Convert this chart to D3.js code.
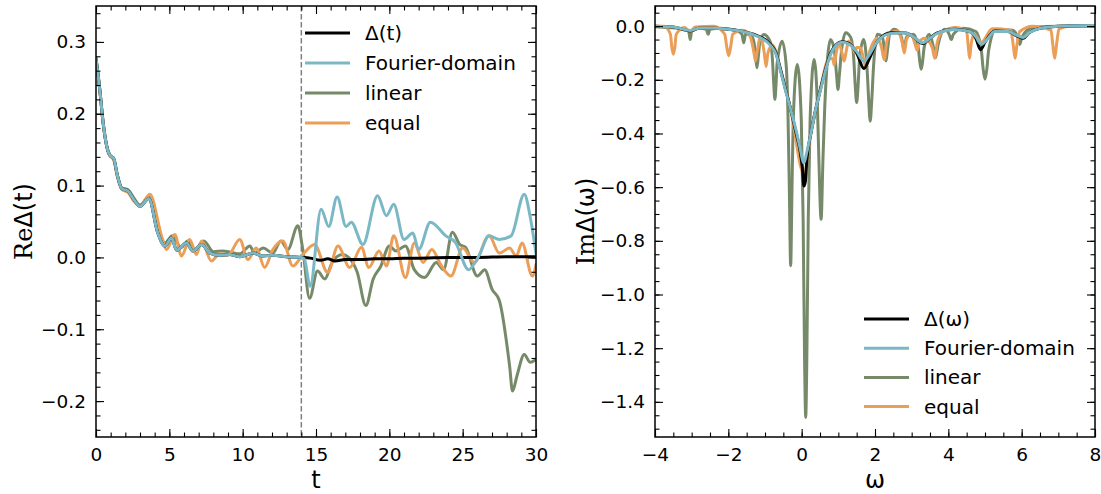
<!DOCTYPE html>
<html>
<head>
<meta charset="utf-8">
<script src="https://cdn.jsdelivr.net/npm/d3@7"></script>
<style>
body { margin: 0; background: #fff; }
svg text { font-family: "DejaVu Sans", sans-serif; fill: #000; }
</style>
</head>
<body>
<svg id="chart" width="1101" height="494"></svg>
<script>

// ---- left panel data: Re Delta(t), pairs of [t, value] ----
var timeExact = [
	[0, 0.277], [0.25, 0.235], [0.5, 0.185], [0.73, 0.155], [0.95, 0.142], [1.2, 0.138],
	[1.45, 0.115], [1.75, 0.096], [2.2, 0.092], [2.6, 0.08], [3.0, 0.071], [3.6, 0.082],
	[4.2, 0.035], [4.7, 0.016], [5.15, 0.027], [5.5, 0.01], [6.17, 0.02], [6.6, 0.009],
	[7.2, 0.018], [7.76, 0.006], [8.4, 0.003], [9.1, 0.004], [9.8, 0.001], [10.7, 0.006],
	[11.4, 0.002], [12.06, 0.003], [12.97, 0.001], [14.0, 0.0], [14.6, -0.001], [15.3, -0.004],
	[15.8, -0.002], [16.3, -0.005], [17, -0.003], [18, -0.003], [19, -0.002], [20, -0.002],
	[21, -0.001], [22, -0.001], [24, 0.0], [26, 0.0], [28, 0.001], [30, 0.001]
];
var timeFourier = [
	[0, 0.277], [0.25, 0.235], [0.5, 0.185], [0.73, 0.155], [0.95, 0.142], [1.2, 0.138],
	[1.45, 0.115], [1.75, 0.096], [2.2, 0.092], [2.6, 0.08], [3.0, 0.071], [3.6, 0.082],
	[4.2, 0.035], [4.7, 0.016], [5.15, 0.027], [5.5, 0.01], [6.17, 0.02], [6.6, 0.009],
	[7.2, 0.018], [7.76, 0.006], [8.4, 0.003], [9.1, 0.004], [9.8, 0.001], [10.7, 0.006],
	[11.4, 0.002], [12.06, 0.003], [12.97, 0.001], [14.0, 0.0], [14.2, -0.002], [14.6, -0.04],
	[15.35, 0.067], [15.87, 0.043], [16.44, 0.084], [17.05, 0.043], [17.4, 0.049], [18.2, 0.018],
	[19.2, 0.086], [19.8, 0.058], [20.3, 0.074], [21.0, 0.025], [21.6, 0.034], [22.0, 0.011],
	[22.8, 0.049], [23.85, 0.03], [24.5, 0.021], [25.4, -0.017], [26.1, 0.002], [26.8, 0.03],
	[27.5, 0.025], [28.3, 0.03], [29.2, 0.088], [29.6, 0.057], [30, 0.005]
];
var timeLinear = [
	[0, 0.277], [0.25, 0.235], [0.5, 0.185], [0.73, 0.155], [0.95, 0.142], [1.2, 0.138],
	[1.45, 0.115], [1.75, 0.097], [2.2, 0.094], [2.6, 0.082], [3.0, 0.073], [3.6, 0.084],
	[4.2, 0.037], [4.7, 0.02], [5.2, 0.03], [5.8, 0.014], [6.25, 0.023], [6.7, 0.01],
	[7.35, 0.023], [8.0, 0.008], [8.65, 0.009], [9.2, 0.007], [9.8, 0.005], [10.5, 0.016],
	[10.8, 0.006], [11.4, 0.013], [12.06, 0.006], [12.6, 0.023], [13.08, 0.011], [13.76, 0.044],
	[14.1, 0.011], [14.56, -0.057], [15.1, -0.019], [15.6, -0.03], [16.1, -0.007], [16.8, 0.004],
	[17.5, -0.007], [17.8, -0.02], [18.4, -0.067], [18.9, -0.03], [19.4, -0.013], [20.0, 0.016],
	[20.45, 0.009], [21.1, 0.016], [21.7, -0.017], [22.4, -0.028], [23.2, -0.007], [23.7, -0.017],
	[24.3, 0.035], [24.8, 0.018], [25.2, 0.014], [26.0, -0.026], [26.5, -0.017], [27.0, -0.044],
	[27.5, -0.06], [28.2, -0.151], [28.4, -0.186], [28.7, -0.165], [29.2, -0.135], [29.6, -0.146],
	[30, -0.142]
];
var timeEqual = [
	[0, 0.277], [0.25, 0.235], [0.5, 0.185], [0.73, 0.155], [0.95, 0.142], [1.2, 0.136],
	[1.45, 0.113], [1.75, 0.095], [2.2, 0.09], [2.6, 0.078], [3.0, 0.072], [3.67, 0.088],
	[4.47, 0.03], [4.81, 0.011], [5.37, 0.032], [5.83, 0.002], [6.39, 0.025], [6.85, 0.004],
	[7.2, 0.023], [7.87, -0.005], [8.43, 0.005], [9.0, 0.003], [9.8, 0.025], [10.36, -0.003],
	[10.93, 0.013], [11.5, -0.014], [12.06, 0.011], [12.74, 0.023], [13.42, -0.012], [14.1, 0.004],
	[14.9, 0.018], [15.8, -0.021], [16.5, 0.016], [17.3, -0.014], [18.1, 0.014], [18.6, -0.014],
	[19.3, 0.009], [19.8, -0.012], [20.3, 0.03], [21.1, -0.028], [21.7, 0.02], [22.3, -0.007],
	[22.9, 0.011], [23.5, -0.01], [24.2, -0.026], [25.0, 0.013], [25.8, -0.007], [26.8, 0.03],
	[27.5, 0.006], [28.2, 0.013], [28.65, 0.002], [29.05, 0.02], [29.75, -0.026], [30, -0.01]
];
var cutoffTime = 14;

// ---- right panel data: Im Delta(omega), pairs of [omega, value] ----
var freqExact = [
	[-4, 0], [-3.5, -0.003], [-3.04, -0.018], [-2.8, -0.008], [-2.4, -0.008], [-2.0, -0.012],
	[-1.68, -0.018], [-1.22, -0.035], [-0.85, -0.068], [-0.7, -0.1], [-0.58, -0.16], [-0.45, -0.23],
	[-0.3, -0.31], [-0.15, -0.4], [-0.05, -0.46], [0.02, -0.53], [0.06, -0.596], [0.1, -0.58],
	[0.14, -0.5], [0.25, -0.4], [0.4, -0.3], [0.52, -0.23], [0.65, -0.16], [0.79, -0.1],
	[0.95, -0.068], [1.1, -0.058], [1.3, -0.065], [1.5, -0.1], [1.7, -0.158], [1.85, -0.12],
	[2.07, -0.056], [2.44, -0.025], [2.8, -0.025], [3.05, -0.04], [3.3, -0.065], [3.5, -0.045],
	[3.7, -0.025], [4.16, -0.012], [4.58, -0.02], [4.75, -0.045], [4.88, -0.088], [5.0, -0.06],
	[5.27, -0.018], [5.63, -0.02], [5.85, -0.035], [6.04, -0.045], [6.2, -0.025], [6.5, -0.008],
	[7.0, 0.0], [8.0, 0.002]
];
var freqFourier = [
	[-4, 0], [-3.5, -0.003], [-3.04, -0.016], [-2.8, -0.008], [-2.4, -0.008], [-2.0, -0.012],
	[-1.68, -0.018], [-1.22, -0.037], [-0.85, -0.072], [-0.7, -0.105], [-0.58, -0.165], [-0.45, -0.235],
	[-0.3, -0.31], [-0.15, -0.39], [-0.05, -0.45], [0.06, -0.51], [0.14, -0.47], [0.25, -0.4],
	[0.4, -0.3], [0.52, -0.235], [0.65, -0.165], [0.79, -0.105], [0.95, -0.07], [1.1, -0.06],
	[1.3, -0.068], [1.5, -0.095], [1.7, -0.13], [1.85, -0.105], [2.07, -0.056], [2.44, -0.027],
	[2.8, -0.025], [3.05, -0.04], [3.3, -0.062], [3.5, -0.045], [3.7, -0.027], [4.16, -0.013],
	[4.58, -0.02], [4.75, -0.04], [4.9, -0.068], [5.05, -0.05], [5.27, -0.02], [5.63, -0.02],
	[5.85, -0.033], [6.04, -0.042], [6.2, -0.025], [6.5, -0.008], [7.0, 0.0], [8.0, 0.002]
];
var freqLinear = [
	[-4.0, -0.002], [-3.2, -0.01], [-3.08, -0.02], [-3.04, -0.05], [-3.0, -0.02], [-2.8, -0.008],
	[-2.6, -0.012], [-2.55, -0.03], [-2.5, -0.012], [-2.2, -0.008], [-1.75, -0.018], [-1.63, -0.03],
	[-1.58, -0.062], [-1.53, -0.03], [-1.4, -0.03], [-1.3, -0.06], [-1.26, -0.11], [-1.22, -0.155],
	[-1.18, -0.11], [-1.14, -0.06], [-1.03, -0.031], [-0.85, -0.06], [-0.79, -0.14], [-0.76, -0.22],
	[-0.73, -0.273], [-0.7, -0.22], [-0.67, -0.14], [-0.53, -0.056], [-0.42, -0.15], [-0.37, -0.35],
	[-0.335, -0.62], [-0.3, -0.893], [-0.265, -0.62], [-0.23, -0.35], [-0.12, -0.143], [-0.01, -0.35],
	[0.04, -0.72], [0.08, -1.25], [0.11, -1.458], [0.14, -1.25], [0.18, -0.72], [0.23, -0.35],
	[0.34, -0.124], [0.43, -0.3], [0.47, -0.5], [0.53, -0.72], [0.58, -0.5], [0.63, -0.3],
	[0.79, -0.05], [0.9, -0.1], [0.95, -0.18], [0.99, -0.236], [1.03, -0.18], [1.08, -0.1],
	[1.2, -0.025], [1.34, -0.043], [1.42, -0.12], [1.46, -0.22], [1.5, -0.285], [1.54, -0.22],
	[1.58, -0.12], [1.69, -0.05], [1.78, -0.15], [1.83, -0.28], [1.87, -0.354], [1.91, -0.28],
	[1.96, -0.15], [2.07, -0.03], [2.2, -0.04], [2.26, -0.09], [2.3, -0.13], [2.34, -0.09],
	[2.4, -0.03], [2.53, -0.012], [2.72, -0.04], [2.79, -0.087], [2.86, -0.04], [3.05, -0.03],
	[3.18, -0.08], [3.22, -0.13], [3.26, -0.161], [3.3, -0.13], [3.34, -0.08], [3.48, -0.03],
	[3.58, -0.07], [3.65, -0.118], [3.72, -0.07], [3.9, -0.012], [4.02, -0.03], [4.08, -0.05],
	[4.14, -0.03], [4.4, -0.008], [4.75, -0.02], [4.9, -0.09], [4.95, -0.16], [5.0, -0.198],
	[5.05, -0.16], [5.1, -0.09], [5.3, -0.012], [5.75, -0.015], [5.89, -0.04], [5.95, -0.068],
	[6.01, -0.04], [6.3, -0.005], [7.0, 0.0], [8.0, 0.0]
];
var freqEqual = [
	[-4, 0.0], [-3.75, 0.0], [-3.58, -0.03], [-3.54, -0.08], [-3.5, -0.105], [-3.46, -0.08],
	[-3.42, -0.03], [-3.2, -0.005], [-3.04, -0.02], [-2.9, -0.003], [-2.4, 0.0], [-2.1, -0.03],
	[-2.04, -0.08], [-1.99, -0.11], [-1.94, -0.08], [-1.88, -0.03], [-1.6, -0.015], [-1.4, -0.04],
	[-1.3, -0.1], [-1.26, -0.13], [-1.22, -0.1], [-1.12, -0.04], [-1.02, -0.1], [-0.97, -0.15],
	[-0.92, -0.1], [-0.8, -0.07], [-0.58, -0.16], [-0.3, -0.31], [0.06, -0.55], [0.25, -0.4],
	[0.52, -0.23], [0.7, -0.13], [0.84, -0.12], [0.89, -0.145], [0.94, -0.1], [1.02, -0.065],
	[1.1, -0.1], [1.16, -0.13], [1.22, -0.09], [1.28, -0.055], [1.4, -0.08], [1.45, -0.1],
	[1.5, -0.08], [1.6, -0.08], [1.7, -0.13], [1.75, -0.15], [1.8, -0.12], [1.92, -0.07],
	[2.05, -0.045], [2.18, -0.08], [2.25, -0.125], [2.32, -0.06], [2.42, -0.025], [2.6, -0.018],
	[2.74, -0.06], [2.8, -0.1], [2.86, -0.05], [2.98, -0.03], [3.1, -0.07], [3.15, -0.09],
	[3.2, -0.06], [3.35, -0.045], [3.56, -0.08], [3.63, -0.12], [3.7, -0.06], [3.85, -0.02],
	[4.2, -0.005], [4.5, -0.02], [4.54, -0.07], [4.58, -0.12], [4.62, -0.07], [4.7, -0.03],
	[4.9, -0.06], [5.2, -0.01], [5.7, -0.015], [5.77, -0.07], [5.82, -0.12], [5.87, -0.07],
	[5.95, -0.02], [6.3, 0.0], [6.8, -0.015], [6.85, -0.07], [6.9, -0.12], [6.95, -0.07],
	[7.02, -0.01], [7.3, 0.0], [8, 0.0]
];

var colorExact = "#000000";
var colorFourier = "#7ab8c5";
var colorLinear = "#768a69";
var colorEqual = "#eb9e57";

var svg = d3.select("#chart");

function drawPanel(cfg) {

	var x = d3.scaleLinear().domain(cfg.xDomain).range([cfg.box.x0, cfg.box.x1]);
	var y = d3.scaleLinear().domain(cfg.yDomain).range([cfg.box.y1, cfg.box.y0]);

	var g = svg.append("g");

	g.append("clipPath").attr("id", cfg.id + "-clip")
		.append("rect")
		.attr("x", cfg.box.x0).attr("y", cfg.box.y0)
		.attr("width", cfg.box.x1 - cfg.box.x0).attr("height", cfg.box.y1 - cfg.box.y0);

	var plot = g.append("g").attr("clip-path", "url(#" + cfg.id + "-clip)");

	if (cfg.vline !== undefined) {
		plot.append("line")
			.attr("x1", x(cfg.vline)).attr("x2", x(cfg.vline))
			.attr("y1", cfg.box.y0).attr("y2", cfg.box.y1)
			.attr("stroke", "#808080").attr("stroke-width", 1.5)
			.attr("stroke-dasharray", "5.5,2.5");
	}

	var line = d3.line()
		.x(function (d) { return x(d[0]); })
		.y(function (d) { return y(d[1]); })
		.curve(d3.curveMonotoneX);

	// draw back to front: linear, equal, exact, Fourier
	cfg.drawOrder.forEach(function (s) {
		plot.append("path")
			.datum(s.data)
			.attr("d", line)
			.attr("fill", "none")
			.attr("stroke", s.color)
			.attr("stroke-width", 3)
			.attr("stroke-linejoin", "round")
			.attr("stroke-linecap", "round");
	});

	// ticks on all four sides, pointing in
	var axBottom = d3.axisBottom(x).tickValues(cfg.xMajor).tickSize(-8).tickPadding(11)
		.tickFormat(cfg.xFormat);
	var axBottomMinor = d3.axisBottom(x).tickValues(cfg.xMinor).tickSize(-4.5).tickFormat("");
	var axTop = d3.axisTop(x).tickValues(cfg.xMajor).tickSize(-8).tickFormat("");
	var axTopMinor = d3.axisTop(x).tickValues(cfg.xMinor).tickSize(-4.5).tickFormat("");
	var axLeft = d3.axisLeft(y).tickValues(cfg.yMajor).tickSize(-8).tickPadding(10)
		.tickFormat(cfg.yFormat);
	var axLeftMinor = d3.axisLeft(y).tickValues(cfg.yMinor).tickSize(-4.5).tickFormat("");
	var axRight = d3.axisRight(y).tickValues(cfg.yMajor).tickSize(-8).tickFormat("");
	var axRightMinor = d3.axisRight(y).tickValues(cfg.yMinor).tickSize(-4.5).tickFormat("");

	var axes = [
		[axBottomMinor, "translate(0," + cfg.box.y1 + ")"],
		[axBottom, "translate(0," + cfg.box.y1 + ")"],
		[axTopMinor, "translate(0," + cfg.box.y0 + ")"],
		[axTop, "translate(0," + cfg.box.y0 + ")"],
		[axLeftMinor, "translate(" + cfg.box.x0 + ",0)"],
		[axLeft, "translate(" + cfg.box.x0 + ",0)"],
		[axRightMinor, "translate(" + cfg.box.x1 + ",0)"],
		[axRight, "translate(" + cfg.box.x1 + ",0)"]
	];
	axes.forEach(function (a) {
		var ag = g.append("g").attr("transform", a[1]).call(a[0]);
		ag.select(".domain").remove();
		ag.selectAll(".tick line").attr("stroke", "#000").attr("stroke-width", 1.1);
		ag.selectAll("text")
			.style("font-family", "'DejaVu Sans', sans-serif")
			.style("font-size", "18.5px")
			.attr("fill", "#000");
	});

	// frame
	g.append("rect")
		.attr("x", cfg.box.x0).attr("y", cfg.box.y0)
		.attr("width", cfg.box.x1 - cfg.box.x0).attr("height", cfg.box.y1 - cfg.box.y0)
		.attr("fill", "none").attr("stroke", "#000").attr("stroke-width", 1.5);

	// x label
	g.append("text")
		.attr("x", (cfg.box.x0 + cfg.box.x1) / 2).attr("y", 488)
		.attr("text-anchor", "middle")
		.style("font-size", "24px")
		.text(cfg.xLabel);

	// y label: roman prefix + symbol
	var yl = g.append("text")
		.attr("transform", "translate(" + cfg.yLabelX + "," + ((cfg.box.y0 + cfg.box.y1) / 2) + ") rotate(-90)")
		.attr("text-anchor", "middle")
		.style("font-size", "24px");
	yl.append("tspan").style("font-family", "'DejaVu Serif', serif").text(cfg.yLabelPrefix);
	yl.append("tspan").text(cfg.yLabelRest);

	// legend, no frame
	cfg.legend.forEach(function (s, i) {
		var ly = cfg.legendY + i * cfg.legendStep;
		g.append("line")
			.attr("x1", cfg.legendX).attr("x2", cfg.legendX + 45)
			.attr("y1", ly).attr("y2", ly)
			.attr("stroke", s.color).attr("stroke-width", 3);
		g.append("text")
			.attr("x", cfg.legendX + 60).attr("y", ly)
			.attr("dy", "0.35em")
			.style("font-size", "20px")
			.text(s.label);
	});
}

function signedLabel(v, digits) {
	if (Math.abs(v) < 1e-9) {
		return (0).toFixed(digits);
	}
	return (v < 0 ? "\u2212" : "") + Math.abs(v).toFixed(digits);
}

var leftSeries = {
	exact: { data: timeExact, color: colorExact, label: "\u0394(t)" },
	fourier: { data: timeFourier, color: colorFourier, label: "Fourier-domain" },
	linear: { data: timeLinear, color: colorLinear, label: "linear" },
	equal: { data: timeEqual, color: colorEqual, label: "equal" }
};

drawPanel({
	id: "left",
	box: { x0: 96, x1: 536, y0: 6, y1: 437 },
	xDomain: [0, 30],
	yDomain: [-0.25, 0.35],
	xMajor: d3.range(0, 31, 5),
	xMinor: d3.range(0, 31, 1),
	yMajor: [-0.2, -0.1, 0, 0.1, 0.2, 0.3],
	yMinor: d3.range(-24, 35, 2).map(function (v) { return v / 100; }),
	xFormat: function (v) { return signedLabel(v, 0); },
	yFormat: function (v) { return signedLabel(v, 1); },
	vline: cutoffTime,
	drawOrder: [leftSeries.linear, leftSeries.equal, leftSeries.exact, leftSeries.fourier],
	legend: [leftSeries.exact, leftSeries.fourier, leftSeries.linear, leftSeries.equal],
	legendX: 305, legendY: 33, legendStep: 30,
	xLabel: "t",
	yLabelX: 32, yLabelPrefix: "Re", yLabelRest: "\u0394(t)"
});

var rightSeries = {
	exact: { data: freqExact, color: colorExact, label: "\u0394(\u03c9)" },
	fourier: { data: freqFourier, color: colorFourier, label: "Fourier-domain" },
	linear: { data: freqLinear, color: colorLinear, label: "linear" },
	equal: { data: freqEqual, color: colorEqual, label: "equal" }
};

drawPanel({
	id: "right",
	box: { x0: 655, x1: 1095, y0: 6, y1: 437 },
	xDomain: [-4, 8],
	yDomain: [-1.531, 0.075],
	xMajor: d3.range(-4, 9, 2),
	xMinor: d3.range(-8, 17, 1).map(function (v) { return v / 2; }),
	yMajor: d3.range(-14, 1, 2).map(function (v) { return v / 10; }),
	yMinor: d3.range(-30, 2, 1).map(function (v) { return v / 20; }),
	xFormat: function (v) { return signedLabel(v, 0); },
	yFormat: function (v) { return signedLabel(v, 1); },
	drawOrder: [rightSeries.linear, rightSeries.equal, rightSeries.exact, rightSeries.fourier],
	legend: [rightSeries.exact, rightSeries.fourier, rightSeries.linear, rightSeries.equal],
	legendX: 864, legendY: 319, legendStep: 29.2,
	xLabel: "\u03c9",
	yLabelX: 594, yLabelPrefix: "Im", yLabelRest: "\u0394(\u03c9)"
});

</script>
</body>
</html>
